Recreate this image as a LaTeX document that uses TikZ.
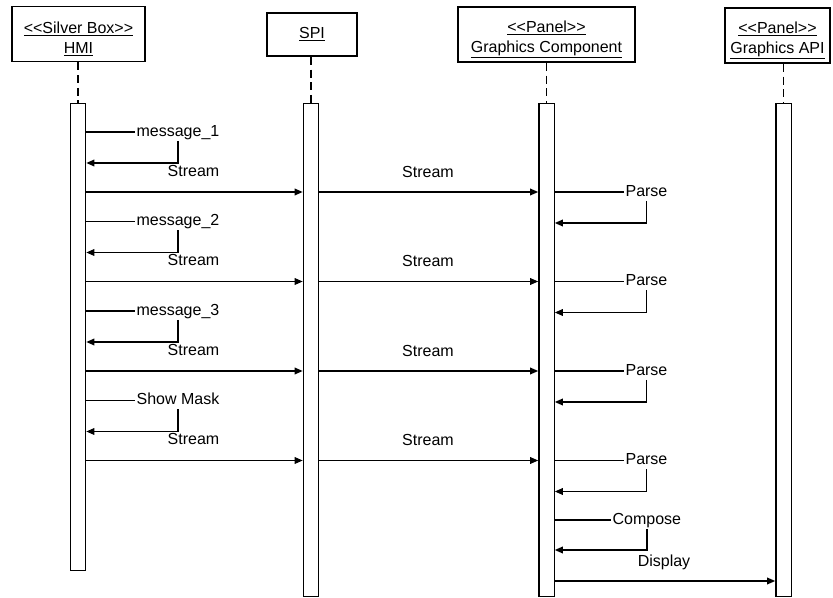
\documentclass[tikz,border=0pt]{standalone}
\usepackage{fontspec}
\newfontfamily\umlfont{Liberation Sans}
\usetikzlibrary{arrows.meta}

\begin{document}
\begin{tikzpicture}[x=0.75pt, y=-0.75pt,
  font=\umlfont\fontsize{12}{15}\selectfont,
  obj/.style={draw, line width=1.4pt, align=center, minimum height=41.25pt, inner sep=2pt},
  bar/.style={draw, line width=1pt, minimum width=11.5pt, anchor=north, inner sep=0pt},
  life/.style={line width=1.2pt, dash pattern=on 6pt off 3.5pt},
  lbl/.style={inner sep=1pt, text height=8.6pt, text depth=2.5pt},
  call/.style={line width=1pt},
  msg/.style={line width=1pt, -{Triangle[length=6pt,width=5pt]}}]

\useasboundingbox (0,0) rectangle (833,598);

% objects
\node[obj, minimum width=99.75pt] (hmi) at (78.5,34) {\rule{0pt}{16pt}\underline{<<Silver Box>>}\\\underline{HMI}};
\node[obj, minimum width=67.5pt, minimum height=32.25pt] (spi) at (312,34.5) {\underline{SPI}};
\node[obj, minimum width=132.75pt] (gc) at (546.5,34.5) {\rule{0pt}{16pt}\underline{<<Panel>>}\\\underline{Graphics Component}};
\node[obj, minimum width=79pt] (gapi) at (777.5,35.5) {\rule{0pt}{16pt}\underline{<<Panel>>}\\\underline{Graphics API}};

% activation bars
\node[bar, minimum height=350.25pt] (hmi-bar) at (78,103) {};
\node[bar, minimum height=369.75pt] (spi-bar) at (311,103) {};
\node[bar, minimum height=369.75pt] (gc-bar) at (546.5,103) {};
\node[bar, minimum height=369.75pt] (gapi-bar) at (783.5,103) {};

\foreach \o in {hmi,spi,gc,gapi} {
  \draw[life] (\o-bar.north |- \o.south) -- (\o-bar.north);
}

% one message round per loop step
\foreach \i/\txt in {1/message\_1, 2/message\_2, 3/message\_3, 4/Show Mask} {
  \pgfmathsetmacro\ym{132+89.5*(\i-1)}
  \node[lbl, anchor=west] (m\i) at (135,\ym) {\txt};
  \draw[call] (hmi-bar.east |- m\i.west) -- (m\i.west);
  \coordinate (r\i) at (0,\ym+31);
  \draw[msg] (m\i.south) |- (hmi-bar.east |- r\i);
  \node[lbl] (s\i) at (193.5,\ym+40) {Stream};
  \coordinate (a\i) at (0,\ym+60);
  \draw[msg] (hmi-bar.east |- a\i) -- (spi-bar.west |- a\i);
  \node[lbl] (t\i) at (428,\ym+41) {Stream};
  \draw[msg] (spi-bar.east |- a\i) -- (gc-bar.west |- a\i);
  \node[lbl, anchor=west] (p\i) at (624,\ym+60) {Parse};
  \draw[call] (gc-bar.east |- p\i.west) -- (p\i.west);
  \coordinate (q\i) at (0,\ym+91);
  \draw[msg] (p\i.south) |- (gc-bar.east |- q\i);
}

% compose and display
\node[lbl, anchor=west] (cmp) at (611,520) {Compose};
\draw[call] (gc-bar.east |- cmp.west) -- (cmp.west);
\coordinate (cr) at (0,550);
\draw[msg] (cmp.south) |- (gc-bar.east |- cr);
\node[lbl] (disp) at (664,562) {Display};
\coordinate (dy) at (0,581);
\draw[msg] (gc-bar.east |- dy) -- (gapi-bar.west |- dy);
\end{tikzpicture}
\end{document}
